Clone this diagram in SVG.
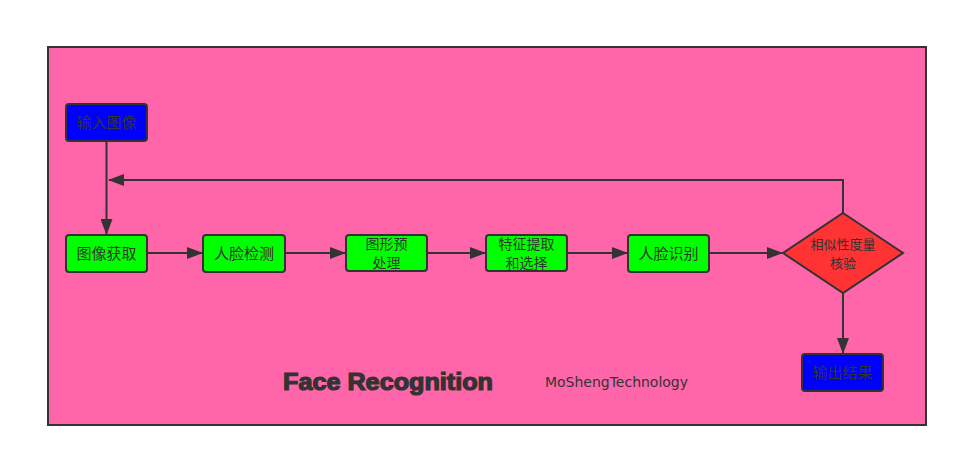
<svg xmlns="http://www.w3.org/2000/svg" width="958" height="457" viewBox="0 0 958 457">
<style>
.n{stroke:#333;stroke-width:2}
.g{fill:#00ff00}
.b{fill:#0000ff}
.t{font-family:"Noto Sans CJK SC","Liberation Sans",sans-serif;font-size:15px;fill:#333;text-anchor:middle}
.s{font-size:14px}
.d{font-size:13px}
.c{fill:none;stroke:#333;stroke-width:2}
</style>
<defs>
<marker id="ah" markerWidth="16" markerHeight="12" refX="15" refY="6" orient="auto" markerUnits="userSpaceOnUse">
<path d="M0,0 L16,6 L0,12 Z" fill="#333"/>
</marker>
</defs>
<rect width="958" height="457" fill="#ffffff"/>
<rect x="48" y="47" width="878" height="378" fill="#ff66aa" stroke="#333" stroke-width="2"/>
<g id="connectors">
<path class="c" d="M106.5,141 V234" marker-end="url(#ah)"/>
<path class="c" d="M843,213 V180 H109" marker-end="url(#ah)"/>
<path class="c" d="M147,253 H202" marker-end="url(#ah)"/>
<path class="c" d="M285,253 H345" marker-end="url(#ah)"/>
<path class="c" d="M427,253 H485" marker-end="url(#ah)"/>
<path class="c" d="M567,253 H627" marker-end="url(#ah)"/>
<path class="c" d="M709,253 H782" marker-end="url(#ah)"/>
<path class="c" d="M843,293 V353" marker-end="url(#ah)"/>
</g>
<g id="input">
<rect class="n b" x="66" y="104" width="81" height="37" rx="3"/>
<text class="t" x="106.5" y="128">输入图像</text>
</g>
<g id="acquire">
<rect class="n g" x="66" y="235" width="81" height="37" rx="3"/>
<text class="t" x="106.5" y="259">图像获取</text>
</g>
<g id="detect">
<rect class="n g" x="203" y="235" width="82" height="37" rx="3"/>
<text class="t" x="244" y="259">人脸检测</text>
</g>
<g id="preprocess">
<rect class="n g" x="346" y="235" width="81" height="36" rx="3"/>
<text class="t s" x="386.5" y="249">图形预</text>
<text class="t s" x="386.5" y="268">处理</text>
</g>
<g id="feature">
<rect class="n g" x="486" y="235" width="81" height="36" rx="3"/>
<text class="t s" x="526.5" y="249">特征提取</text>
<text class="t s" x="526.5" y="268">和选择</text>
</g>
<g id="recognize">
<rect class="n g" x="628" y="235" width="81" height="37" rx="3"/>
<text class="t" x="668.5" y="259">人脸识别</text>
</g>
<g id="verify">
<path class="n" fill="#ff3333" d="M843,213 L903,253 L843,293 L783,253 Z"/>
<text class="t d" x="843" y="249">相似性度量</text>
<text class="t d" x="843" y="268">核验</text>
</g>
<g id="output">
<rect class="n b" x="802" y="354" width="81" height="37" rx="3"/>
<text class="t" x="842.5" y="378">输出结果</text>
</g>
<text x="283" y="390" textLength="210" lengthAdjust="spacingAndGlyphs" style="font-family:'Liberation Sans',Arial,sans-serif;font-weight:bold;font-size:23px;fill:#333;stroke:#333;stroke-width:1.2">Face Recognition</text>
<text x="545" y="387" textLength="143" lengthAdjust="spacingAndGlyphs" style="font-family:'DejaVu Sans',sans-serif;font-size:14px;fill:#333">MoShengTechnology</text>
</svg>
